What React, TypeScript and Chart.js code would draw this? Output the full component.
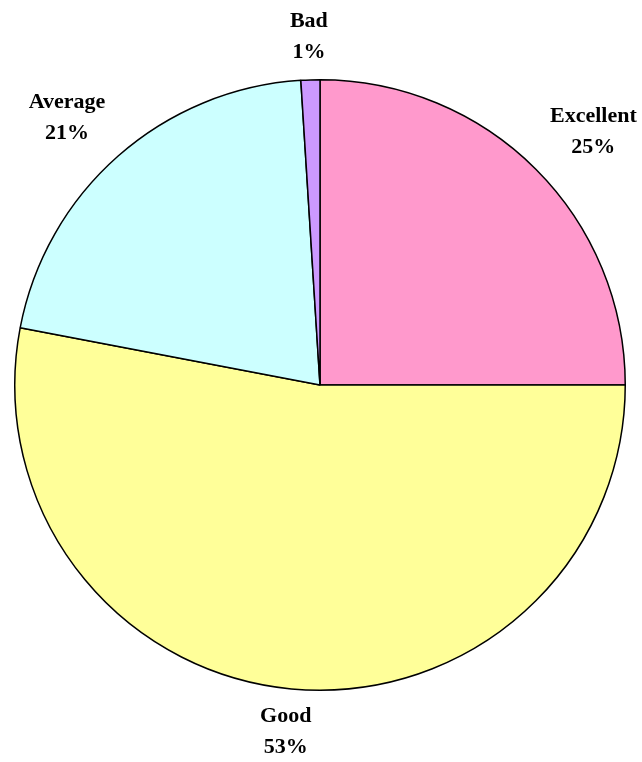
import React, { useEffect, useRef } from "react";
import { Chart, registerables } from "chart.js";

Chart.register(...registerables);

const categories = ["Excellent", "Good", "Average", "Bad"];
const percentages = [25, 53, 21, 1];
const sliceColors = ["#FF99CC", "#FFFF99", "#CCFFFF", "#CC99FF"];

const FONT_SIZE = 22;
const LINE_GAP = 31;
const LABEL_GAP = 20;

const outsideLabels = {
  id: "outsideLabels",
  afterDatasetsDraw(chart: any) {
    const ctx = chart.ctx;
    const meta = chart.getDatasetMeta(0);
    ctx.save();
    ctx.font = `bold ${FONT_SIZE}px "Liberation Serif", "Times New Roman", serif`;
    ctx.fillStyle = "#000";
    ctx.textAlign = "center";
    ctx.textBaseline = "middle";
    meta.data.forEach((arc: any, i: number) => {
      const { x, y, startAngle, endAngle, outerRadius } = arc.getProps(
        ["x", "y", "startAngle", "endAngle", "outerRadius"],
        true
      );
      const mid = (startAngle + endAngle) / 2;
      const c = Math.cos(mid);
      const s = Math.sin(mid);
      const lines = [categories[i], `${percentages[i]}%`];
      const w = Math.max(...lines.map((t) => ctx.measureText(t).width));
      const h = LINE_GAP + FONT_SIZE * 0.66;
      const ax = x + (outerRadius + LABEL_GAP) * c;
      const ay = y + (outerRadius + LABEL_GAP) * s;
      const clamp = (v: number) => Math.max(-1, Math.min(1, v));
      const cx = ax + clamp(c * 1.5) * (w / 2);
      const cy = ay + clamp(s * 1.5) * (h / 2);
      ctx.fillText(lines[0], cx, cy - LINE_GAP / 2);
      ctx.fillText(lines[1], cx, cy + LINE_GAP / 2);
    });
    ctx.restore();
  },
};

export default function App() {
  const ref = useRef<HTMLCanvasElement | null>(null);
  useEffect(() => {
    document.body.style.margin = "0";
    if (!ref.current) return;
    const chart = new Chart(ref.current, {
      type: "pie",
      data: {
        labels: categories,
        datasets: [
          {
            data: percentages,
            backgroundColor: sliceColors,
            borderColor: "#000000",
            borderWidth: 1.5,
          },
        ],
      },
      options: {
        responsive: false,
        animation: false,
        layout: { padding: { left: 14, right: 16, top: 79, bottom: 71 } },
        plugins: {
          legend: { display: false },
          tooltip: { enabled: false },
        },
      },
      plugins: [outsideLabels],
    });
    return () => chart.destroy();
  }, []);
  return (
    <div style={{ width: 642, height: 762, background: "#fff" }}>
      <canvas ref={ref} width={642} height={762} style={{ display: "block" }} />
    </div>
  );
}
